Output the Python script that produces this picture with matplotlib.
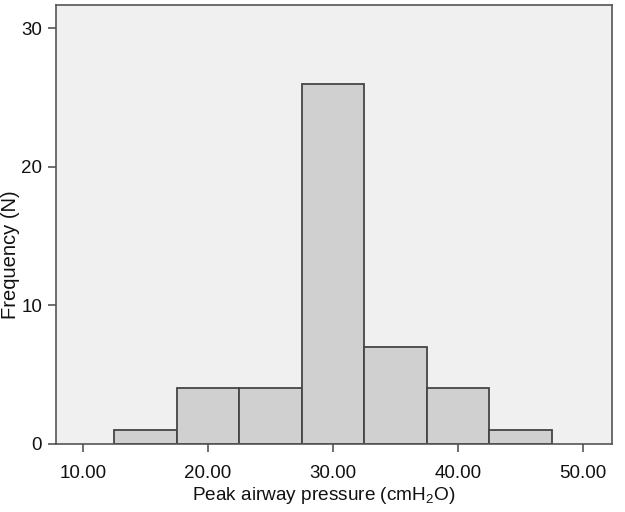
import matplotlib
matplotlib.use("Agg")
import matplotlib.pyplot as plt

bin_centers = [15, 20, 25, 30, 35, 40, 45]
counts = [1, 4, 4, 26, 7, 4, 1]
bin_width = 5
x_ticks = [10, 20, 30, 40, 50]
x_tick_labels = ["10.00", "20.00", "30.00", "40.00", "50.00"]
y_ticks = [0, 10, 20, 30]

plt.rcParams['font.family'] = ['Liberation Sans', 'DejaVu Sans']
plt.rcParams['mathtext.default'] = 'regular'

W, H = 625, 512
fig = plt.figure(figsize=(6.25, 5.12), dpi=100)
ax = fig.add_axes([0.0896, 0.133, 0.8896, 0.857])
ax.set_facecolor('#f0f0f0')
ax.bar(bin_centers, counts, width=bin_width, color='#d0d0d0', edgecolor='#454545', linewidth=1.3)
ax.set_xlim(7.84, 52.32)
ax.set_ylim(0, 31.66)
ax.set_xticks(x_ticks)
ax.set_xticklabels(x_tick_labels)
ax.set_yticks(y_ticks)
for s in ax.spines.values():
    s.set_color('#555555')
    s.set_linewidth(1.2)
ax.tick_params(axis='both', direction='out', length=6, width=1.2, color='#555555', labelsize=13.5, labelcolor='#111111')
ax.tick_params(axis='x', pad=9)
ax.tick_params(axis='y', pad=4)
fig.text(324 / W, 1 - 496 / H, 'Peak airway pressure (cmH$_2$O)', fontsize=13.7, color='#111111', ha='center', va='center')
fig.text(11 / W, 1 - 255 / H, 'Frequency (N)', fontsize=14.5, color='#111111', ha='center', va='center', rotation=90)
fig.savefig('out.png', dpi=100)
